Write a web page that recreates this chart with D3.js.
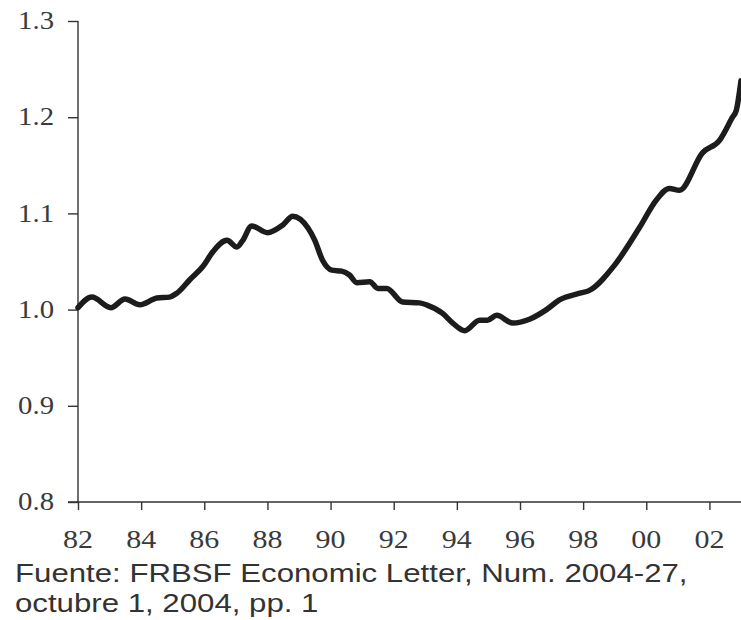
<!DOCTYPE html>
<html>
<head>
<meta charset="utf-8">
<script src="https://cdn.jsdelivr.net/npm/d3@7"></script>
<style>
  body { margin: 0; background: #fff; }
</style>
</head>
<body>
<div id="chart"></div>
<script>
// Data (decimal year, index value)
var years = [1982.0, 1982.44, 1983.04, 1983.49, 1983.96, 1984.5, 1984.9, 1985.13, 1985.54, 1985.96,
             1986.27, 1986.72, 1987.03, 1987.22, 1987.5, 1988.0, 1988.49, 1988.8, 1989.28, 1989.5,
             1989.75, 1990.04, 1990.35, 1990.6, 1990.83, 1991.24, 1991.5, 1991.78, 1992.28, 1992.82,
             1993.04, 1993.55, 1993.87, 1994.25, 1994.72, 1994.97, 1995.26, 1995.77, 1996.3, 1996.84,
             1997.25, 1997.89, 1998.2, 1998.99, 1999.78, 2000.32, 2000.73, 2001.05, 2001.78, 2002.32,
             2002.73, 2002.85, 2003.0];
var values = [1.002, 1.013, 1.002, 1.011, 1.005, 1.012, 1.013, 1.017, 1.031, 1.045,
              1.060, 1.072, 1.065, 1.072, 1.087, 1.080, 1.088, 1.097, 1.085, 1.072,
              1.051, 1.041, 1.040, 1.036, 1.028, 1.029, 1.022, 1.022, 1.008, 1.007,
              1.005, 0.996, 0.986, 0.978, 0.989, 0.989, 0.994, 0.986, 0.990, 1.000,
              1.010, 1.017, 1.020, 1.046, 1.085, 1.114, 1.126, 1.124, 1.163, 1.176,
              1.200, 1.207, 1.238];
var yTicks = [0.8, 0.9, 1.0, 1.1, 1.2, 1.3];
var xTicks = [1982, 1984, 1986, 1988, 1990, 1992, 1994, 1996, 1998, 2000, 2002];
var sourceLines = ["Fuente: FRBSF Economic Letter, Num. 2004-27,", "octubre 1, 2004, pp. 1"];

// Chart dimensions
var W = 741, H = 620;
var margin = {top: 21, right: 0, bottom: 118, left: 78};
var serif = "'Liberation Serif', 'DejaVu Serif', 'Times New Roman', serif";
var sans = "'Liberation Sans', Arial, sans-serif";

var x = d3.scaleLinear()
    .domain([1982, 2003])
    .range([margin.left, W - margin.right]);

var y = d3.scaleLinear()
    .domain([0.8, 1.3])
    .range([H - margin.bottom, margin.top]);

var svg = d3.select("#chart")
  .append("svg")
  .attr("width", W)
  .attr("height", H);

// Axes (ticks from d3 axes, labels added separately so they can be stretched)
var yAxis = d3.axisLeft(y).tickValues(yTicks).tickSize(10).tickFormat("");
var xAxis = d3.axisBottom(x).tickValues(xTicks).tickSize(8).tickFormat("");

var gy = svg.append("g")
    .attr("transform", "translate(" + margin.left + ",0)")
    .call(yAxis);
var gx = svg.append("g")
    .attr("transform", "translate(0," + y(0.8) + ")")
    .call(xAxis);

[gx, gy].forEach(function(g) {
  g.select(".domain").remove();
  g.selectAll(".tick line").attr("stroke", "#333").attr("stroke-width", 1.4);
});

// axis lines
svg.append("line")
    .attr("x1", margin.left).attr("x2", margin.left)
    .attr("y1", y(1.3)).attr("y2", y(0.8))
    .attr("stroke", "#333").attr("stroke-width", 1.4);
svg.append("line")
    .attr("x1", margin.left - 10).attr("x2", W)
    .attr("y1", y(0.8)).attr("y2", y(0.8))
    .attr("stroke", "#333").attr("stroke-width", 1.4);

// y tick labels
svg.selectAll(".ylab")
  .data(yTicks)
  .enter().append("text")
    .style("font-family", serif)
    .style("font-size", "25px")
    .style("fill", "#3a3a3a")
    .attr("transform", function(d) { return "translate(54," + y(d) + ") scale(1.15,1)"; })
    .attr("text-anchor", "end")
    .attr("dy", "0.33em")
    .text(function(d) { return d3.format(".1f")(d); });

// x tick labels
svg.selectAll(".xlab")
  .data(xTicks)
  .enter().append("text")
    .style("font-family", serif)
    .style("font-size", "25px")
    .style("fill", "#3a3a3a")
    .attr("transform", function(d) { return "translate(" + x(d) + ",548) scale(1.2,1)"; })
    .attr("text-anchor", "middle")
    .text(function(d) { return d3.format("02d")(d % 100); });

// the series
var data = years.map(function(t, i) { return {t: t, v: values[i]}; });
var line = d3.line()
    .x(function(d) { return x(d.t); })
    .y(function(d) { return y(d.v); })
    .curve(d3.curveMonotoneX);

svg.append("path")
    .datum(data)
    .attr("fill", "none")
    .attr("stroke", "#1c1c1c")
    .attr("stroke-width", 5.5)
    .attr("stroke-linejoin", "round")
    .attr("stroke-linecap", "round")
    .attr("d", line);

// source note
svg.selectAll(".source")
  .data(sourceLines)
  .enter().append("text")
    .style("font-family", sans)
    .style("font-size", "26px")
    .style("fill", "#333")
    .attr("transform", function(d, i) { return "translate(15," + (582 + i * 30) + ") scale(1.2,1)"; })
    .text(function(d) { return d; });
</script>
</body>
</html>
